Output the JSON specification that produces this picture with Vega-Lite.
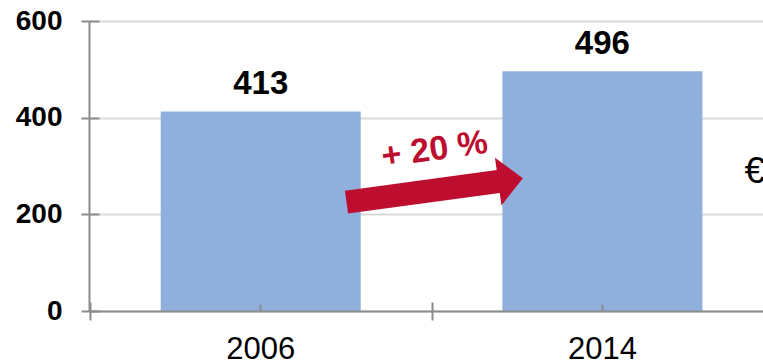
{
  "$schema": "https://vega.github.io/schema/vega-lite/v6.json",
  "width": 674,
  "height": 290,
  "autosize": {"type": "none"},
  "padding": {"left": 89, "top": 21, "right": 0, "bottom": 53},
  "background": "white",
  "config": {"view": {"stroke": null}, "font": "Liberation Sans"},
  "datasets": {
    "main": [{"year": "2006", "value": 413}, {"year": "2014", "value": 496}],
    "note": [{"label": "+ 20 %"}]
  },
  "layer": [
    {
      "data": {"name": "main"},
      "mark": {"type": "bar", "color": "#8FB0DC"},
      "encoding": {
        "x": {
          "field": "year", "type": "nominal",
          "scale": {"paddingInner": 0.4147, "paddingOuter": 0.1936, "align": 0.542},
          "axis": {
            "orient": "bottom", "title": null, "ticks": false,
            "domainColor": "#8C8C8C", "domainWidth": 2,
            "labelFont": "Liberation Sans", "labelFontSize": 31, "labelColor": "black",
            "labelPadding": 23, "labelAngle": 0, "zindex": 1
          }
        },
        "y": {
          "field": "value", "type": "quantitative",
          "scale": {"domain": [0, 600]},
          "axis": {
            "orient": "left", "title": null, "values": [0, 200, 400, 600], "ticks": false,
            "domainColor": "#8C8C8C", "domainWidth": 2,
            "gridColor": "#D9D9D9", "gridWidth": 2, "grid": true,
            "labelFont": "Liberation Sans", "labelFontSize": 28, "labelFontWeight": "bold",
            "labelColor": "black", "labelPadding": 27
          }
        }
      }
    },
    {
      "data": {"name": "main"},
      "mark": {"type": "text", "fontSize": 33, "fontWeight": "bold", "baseline": "alphabetic", "dy": -17, "color": "black"},
      "encoding": {
        "x": {
          "field": "year", "type": "nominal",
          "axis": {"orient": "bottom", "title": null, "labels": false, "domain": false, "offset": -7, "tickSize": 7, "tickColor": "#8C8C8C", "tickWidth": 2, "zindex": 2}
        },
        "y": {
          "field": "value", "type": "quantitative",
          "axis": {"orient": "left", "title": null, "labels": false, "domain": false, "grid": false, "values": [0, 200, 400, 600], "offset": -10, "tickSize": 18, "tickColor": "#8C8C8C", "tickWidth": 2, "zindex": 2}
        },
        "text": {"field": "value", "type": "quantitative"}
      }
    },
    {
      "data": {"name": "note"},
      "mark": {"type": "point", "shape": "M -1 -0.13 L 0.72 -0.13 L 0.72 -0.27 L 1 0 L 0.72 0.27 L 0.72 0.13 L -1 0.13 Z", "filled": true, "color": "#BD0E2F", "opacity": 1, "size": 31700, "angle": -7.7, "strokeWidth": 0},
      "encoding": {
        "x": {"datum": "2006", "type": "nominal", "bandPosition": 1.37, "axis": {"orient": "bottom", "title": null, "labels": false, "domain": false, "tickOffset": -170.85, "offset": -9, "tickSize": 18, "tickColor": "#8C8C8C", "tickWidth": 2, "zindex": 2}},
        "y": {"datum": 250, "type": "quantitative", "axis": null}
      }
    },
    {
      "data": {"name": "note"},
      "mark": {"type": "text", "fontSize": 34, "fontWeight": "bold", "color": "#BD0E2F", "angle": -8, "align": "center", "baseline": "middle"},
      "encoding": {
        "x": {"datum": "2006", "type": "nominal", "bandPosition": 1.37, "axis": null},
        "y": {"datum": 333, "type": "quantitative", "axis": null},
        "text": {"field": "label"}
      }
    },
    {
      "data": {"name": "note"},
      "mark": {"type": "text", "fontSize": 37, "color": "black", "align": "left", "baseline": "middle", "text": "€"},
      "encoding": {
        "x": {"datum": "2014", "type": "nominal", "bandPosition": 1.21, "axis": null},
        "y": {"datum": 288, "type": "quantitative", "axis": null}
      }
    }
  ],
  "resolve": {"axis": {"x": "independent", "y": "independent"}}
}
